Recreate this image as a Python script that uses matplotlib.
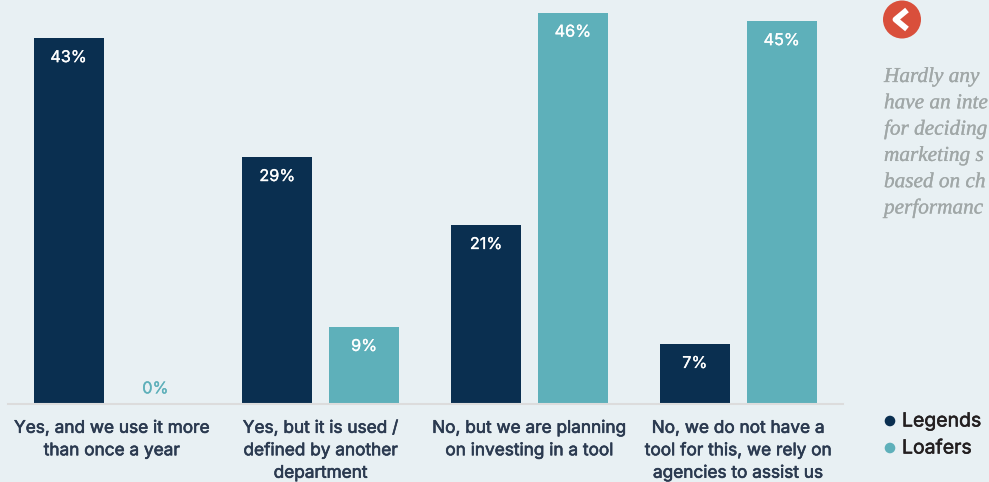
import matplotlib
matplotlib.use('Agg')
import matplotlib.pyplot as plt
import matplotlib.patheffects as pe
from matplotlib.lines import Line2D
from matplotlib.patches import Circle
from matplotlib.transforms import Affine2D
import numpy as np

categories = [
    'Yes, and we use it more\nthan once a year',
    'Yes, but it is used /\ndefined by another\ndepartment',
    'No, but we are planning\non investing in a tool',
    'No, we do not have a\ntool for this, we rely on\nagencies to assist us',
]
legends = [43, 29, 21, 7]
loafers = [0, 9, 46, 45]
note_lines = ['Hardly any', 'have an inte', 'for deciding', 'marketing s', 'based on ch', 'performanc']

NAVY = '#0a2f50'
TEAL = '#5eb0ba'
BG = '#e8f0f3'
W, H = 989, 482

plt.rcParams['font.family'] = ['Inter', 'DejaVu Sans']


def heavier(color, lw=0.45):
    # Inter only comes in regular here, so thicken it a little with a stroke
    return [pe.withStroke(linewidth=lw, foreground=color)]


fig = plt.figure(figsize=(W / 100, H / 100), dpi=100, facecolor=BG)
ax = fig.add_axes([7.6 / W, (H - 403.8) / H, 835 / W, 403.8 / H], facecolor='none')

x = np.arange(len(categories))
offset = 0.208
width = 0.335
ax.bar(x - offset, legends, width, color=NAVY)
ax.bar(x + offset, loafers, width, color=TEAL)

ax.set_xlim(-0.5, 3.5)
ax.set_ylim(0, 47.53)
ax.set_yticks([])
ax.set_xticks(x, categories)
ax.tick_params(axis='x', length=0, pad=11.5, labelsize=12.4, labelcolor='#2b3a50')
for label in ax.get_xticklabels():
    label.set_linespacing(1.42)
    label.set_path_effects(heavier('#2b3a50'))
for side in ['top', 'left', 'right']:
    ax.spines[side].set_visible(False)
ax.spines['bottom'].set_color('#dcdcdc')
ax.spines['bottom'].set_linewidth(1.5)

# value labels sit just inside the top of each bar
for xi, v in zip(x - offset, legends):
    ax.annotate(f'{v}%', (xi, v), xytext=(0, -17), textcoords='offset points',
                ha='center', va='baseline', color='white', fontsize=11.7,
                path_effects=heavier('white', 0.2))
for xi, v in zip(x + offset, loafers):
    if v == 0:
        ax.annotate(f'{v}%', (xi, v), xytext=(0, 7.5), textcoords='offset points',
                    ha='center', va='baseline', color=TEAL, fontsize=11.7,
                    path_effects=heavier(TEAL, 0.2))
    else:
        ax.annotate(f'{v}%', (xi, v), xytext=(0, -17), textcoords='offset points',
                    ha='center', va='baseline', color='white', fontsize=11.7,
                    path_effects=heavier('white', 0.2))

# everything in the side column is placed in pixels from the top left
px = Affine2D().scale(1, -1).translate(0, H)
fig.add_artist(Circle((902, 19.5), 19, transform=px, color='#d94f3b', lw=0))
fig.add_artist(Line2D([907, 895.5, 907], [10, 19.5, 29], transform=px, color='white',
                      lw=4.2, solid_capstyle='butt', solid_joinstyle='round'))

for i, line in enumerate(note_lines):
    fig.text(884 / W, 1 - (82 + i * 26.3) / H, line, family='Liberation Serif', style='italic',
             fontsize=15.3, color='#a0a7a7', ha='left', va='baseline',
             path_effects=heavier('#a0a7a7', 0.2))

for i, (name, color) in enumerate([('Legends', NAVY), ('Loafers', TEAL)]):
    y = 421 + i * 27
    fig.add_artist(Circle((890, y), 5.3, transform=px, color=color, lw=0))
    fig.text(902 / W, 1 - (y + 5.5) / H, name, fontsize=14, color='#231f20',
             ha='left', va='baseline', path_effects=heavier('#231f20', 0.4))

fig.savefig('out.png', dpi=100, facecolor=BG)
